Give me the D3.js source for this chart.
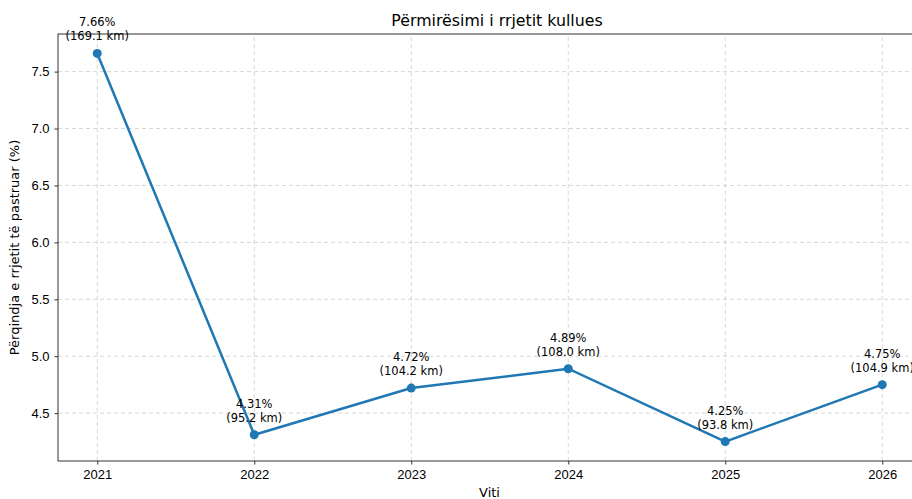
<!DOCTYPE html>
<html lang="sq">
<head>
<meta charset="UTF-8">
<title>Përmirësimi i rrjetit kullues</title>
<script src="https://cdn.jsdelivr.net/npm/d3@7"></script>
<style>
    body { margin: 0; background: #fff; font-family: 'DejaVu Sans', sans-serif; }
    .grid line { stroke: #b0b0b0; stroke-opacity: 0.5; stroke-dasharray: 4,3; }
    .tick text { font-size: 13px; fill: #000; }
    .tick line { stroke: #333; }
    .ann { font-size: 11.5px; fill: #000; }
</style>
</head>
<body>
<svg id="chart" width="912" height="499"></svg>
<script>
    // data
    var years = [2021, 2022, 2023, 2024, 2025, 2026];
    var pct = [7.66, 4.31, 4.72, 4.89, 4.25, 4.75];
    var km = [169.1, 95.2, 104.2, 108.0, 93.8, 104.9];
    var yTicks = [4.5, 5.0, 5.5, 6.0, 6.5, 7.0, 7.5];

    var svg = d3.select("#chart"),
        margin = {top: 34, left: 58, bottom: 38},
        height = +svg.attr("height") - margin.top - margin.bottom;

    var x = d3.scaleLinear().domain([2020.75, 2026.25]).range([margin.left, margin.left + 5.5 * 157]);
    var yMin = d3.min(pct), yMax = d3.max(pct), pad = (yMax - yMin) * 0.05;
    var y = d3.scaleLinear().domain([yMin - pad, yMax + pad]).range([margin.top + height, margin.top]);

    // grid
    svg.append("g").attr("class", "grid")
        .selectAll("line.v").data(years).enter().append("line")
        .attr("x1", d => x(d)).attr("x2", d => x(d))
        .attr("y1", y.range()[0]).attr("y2", y.range()[1]);
    svg.append("g").attr("class", "grid")
        .selectAll("line.h").data(yTicks).enter().append("line")
        .attr("x1", x.range()[0]).attr("x2", x.range()[1])
        .attr("y1", d => y(d)).attr("y2", d => y(d));

    // axes
    var xAxis = svg.append("g").attr("transform", "translate(0," + y.range()[0] + ")")
        .call(d3.axisBottom(x).tickValues(years).tickFormat(d3.format("d")).tickSize(3.5).tickPadding(5));
    var yAxis = svg.append("g").attr("transform", "translate(" + margin.left + ",0)")
        .call(d3.axisLeft(y).tickValues(yTicks).tickFormat(d3.format(".1f")).tickSize(3.5).tickPadding(5));
    xAxis.select(".domain").remove();
    yAxis.select(".domain").remove();

    // spines
    svg.append("rect")
        .attr("x", x.range()[0]).attr("y", y.range()[1])
        .attr("width", x.range()[1] - x.range()[0]).attr("height", y.range()[0] - y.range()[1])
        .attr("fill", "none").attr("stroke", "#333").attr("stroke-width", 1);

    // line + markers
    var pts = years.map((d, i) => ({year: d, v: pct[i], km: km[i]}));
    svg.append("path").datum(pts)
        .attr("fill", "none").attr("stroke", "#1f77b4").attr("stroke-width", 2.5)
        .attr("d", d3.line().x(d => x(d.year)).y(d => y(d.v)));
    svg.selectAll(".dot").data(pts).enter().append("circle")
        .attr("cx", d => x(d.year)).attr("cy", d => y(d.v)).attr("r", 4.5)
        .attr("fill", "#1f77b4");

    // annotations
    var ann = svg.selectAll(".ann").data(pts).enter().append("text")
        .attr("class", "ann").attr("text-anchor", "middle");
    ann.append("tspan").attr("x", d => x(d.year)).attr("y", d => y(d.v) - 27).text(d => d.v.toFixed(2) + "%");
    ann.append("tspan").attr("x", d => x(d.year)).attr("y", d => y(d.v) - 13).text(d => "(" + d.km.toFixed(1) + " km)");

    // titles
    svg.append("text").attr("x", 497).attr("y", 26).attr("text-anchor", "middle")
        .style("font-size", "15.8px").text("Përmirësimi i rrjetit kullues");
    svg.append("text").attr("x", 97 + 2.5 * 157).attr("y", 497).attr("text-anchor", "middle")
        .style("font-size", "13px").text("Viti");
    svg.append("text").attr("transform", "translate(19," + (margin.top + height / 2) + ") rotate(-90)")
        .attr("text-anchor", "middle").style("font-size", "13px")
        .text("Përqindja e rrjetit të pastruar (%)");
</script>
</body>
</html>
